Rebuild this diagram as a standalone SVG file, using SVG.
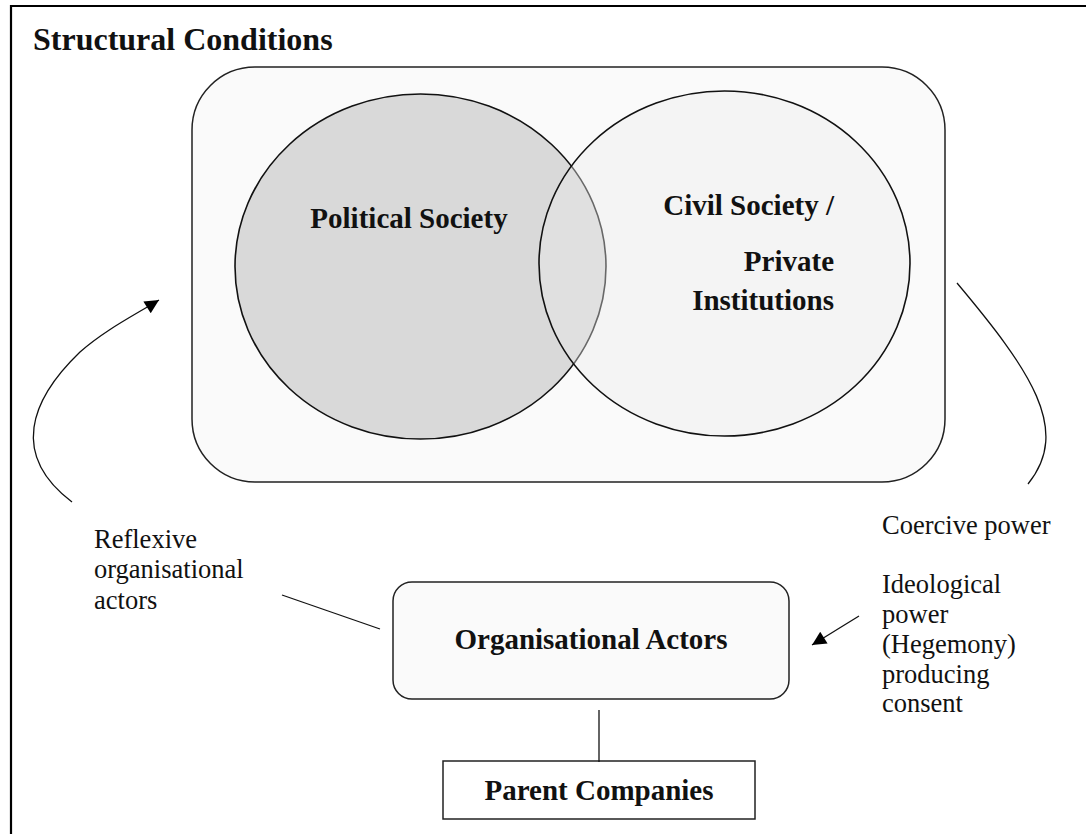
<svg xmlns="http://www.w3.org/2000/svg" width="1086" height="834" viewBox="0 0 1086 834">
<defs>
<marker id="arrow" viewBox="0 0 10 10" refX="10" refY="5" markerWidth="17" markerHeight="14" markerUnits="userSpaceOnUse" orient="auto">
<path d="M0,0 L10,5 L0,10 Z" fill="#000"/>
</marker>
<style>
.bold{font-family:"Liberation Serif","Times New Roman",serif;font-weight:bold;fill:#111;}
.reg{font-family:"Liberation Serif","Times New Roman",serif;font-size:26.5px;fill:#111;}
.conn{fill:none;stroke:#111;stroke-width:1.3;}
</style>
</defs>
<rect x="0" y="0" width="1086" height="834" fill="#fff"/>
<g id="frame">
<path d="M11,834 L11,6 L1086,6" fill="none" stroke="#000" stroke-width="2.2"/>
<text class="bold" x="33" y="50" font-size="32">Structural Conditions</text>
</g>
<g id="structural-conditions">
<rect x="192" y="67" width="753" height="415" rx="63" ry="63" fill="#fafafa" stroke="#222" stroke-width="1.5"/>
</g>
<g id="political-society">
<ellipse cx="420.5" cy="266.5" rx="185.5" ry="172.5" fill="#d9d9d9" stroke="#111" stroke-width="1.6"/>
<text class="bold" x="409" y="228" font-size="29" text-anchor="middle">Political Society</text>
</g>
<g id="civil-society">
<ellipse cx="724.5" cy="263.5" rx="185.5" ry="172.5" fill="#ebebeb" fill-opacity="0.4" stroke="#111" stroke-width="1.6"/>
<text class="bold" font-size="29" text-anchor="end"><tspan x="834" y="215">Civil Society /</tspan><tspan x="834" y="271">Private</tspan><tspan x="834" y="310">Institutions</tspan></text>
</g>
<g id="organisational-actors">
<rect x="393" y="582" width="396" height="117" rx="19" ry="19" fill="#fafafa" stroke="#222" stroke-width="1.5"/>
<text class="bold" x="591" y="649" font-size="29" text-anchor="middle">Organisational Actors</text>
</g>
<g id="parent-companies">
<rect x="443" y="761" width="312" height="58" fill="#fff" stroke="#222" stroke-width="1.5"/>
<text class="bold" x="599" y="800" font-size="29" text-anchor="middle">Parent Companies</text>
</g>
<g id="labels">
<text class="reg"><tspan x="94" y="548">Reflexive</tspan><tspan x="94" y="578">organisational</tspan><tspan x="94" y="609">actors</tspan></text>
<text class="reg" x="882" y="534">Coercive power</text>
<text class="reg"><tspan x="882" y="593">Ideological</tspan><tspan x="882" y="623">power</tspan><tspan x="882" y="653">(Hegemony)</tspan><tspan x="882" y="683">producing</tspan><tspan x="882" y="712">consent</tspan></text>
</g>
<g id="connectors">
<path class="conn" d="M72,502 C10,455 30,400 80,352 C105,330 133,316 159,300" marker-end="url(#arrow)"/>
<path class="conn" d="M957,283 C1030,370 1072,430 1028,484"/>
<path class="conn" d="M282,595 L380,629"/>
<path class="conn" d="M859,616 L812,645" marker-end="url(#arrow)"/>
<path class="conn" d="M599,710 L599,762" stroke-width="1.6"/>
</g>
</svg>
